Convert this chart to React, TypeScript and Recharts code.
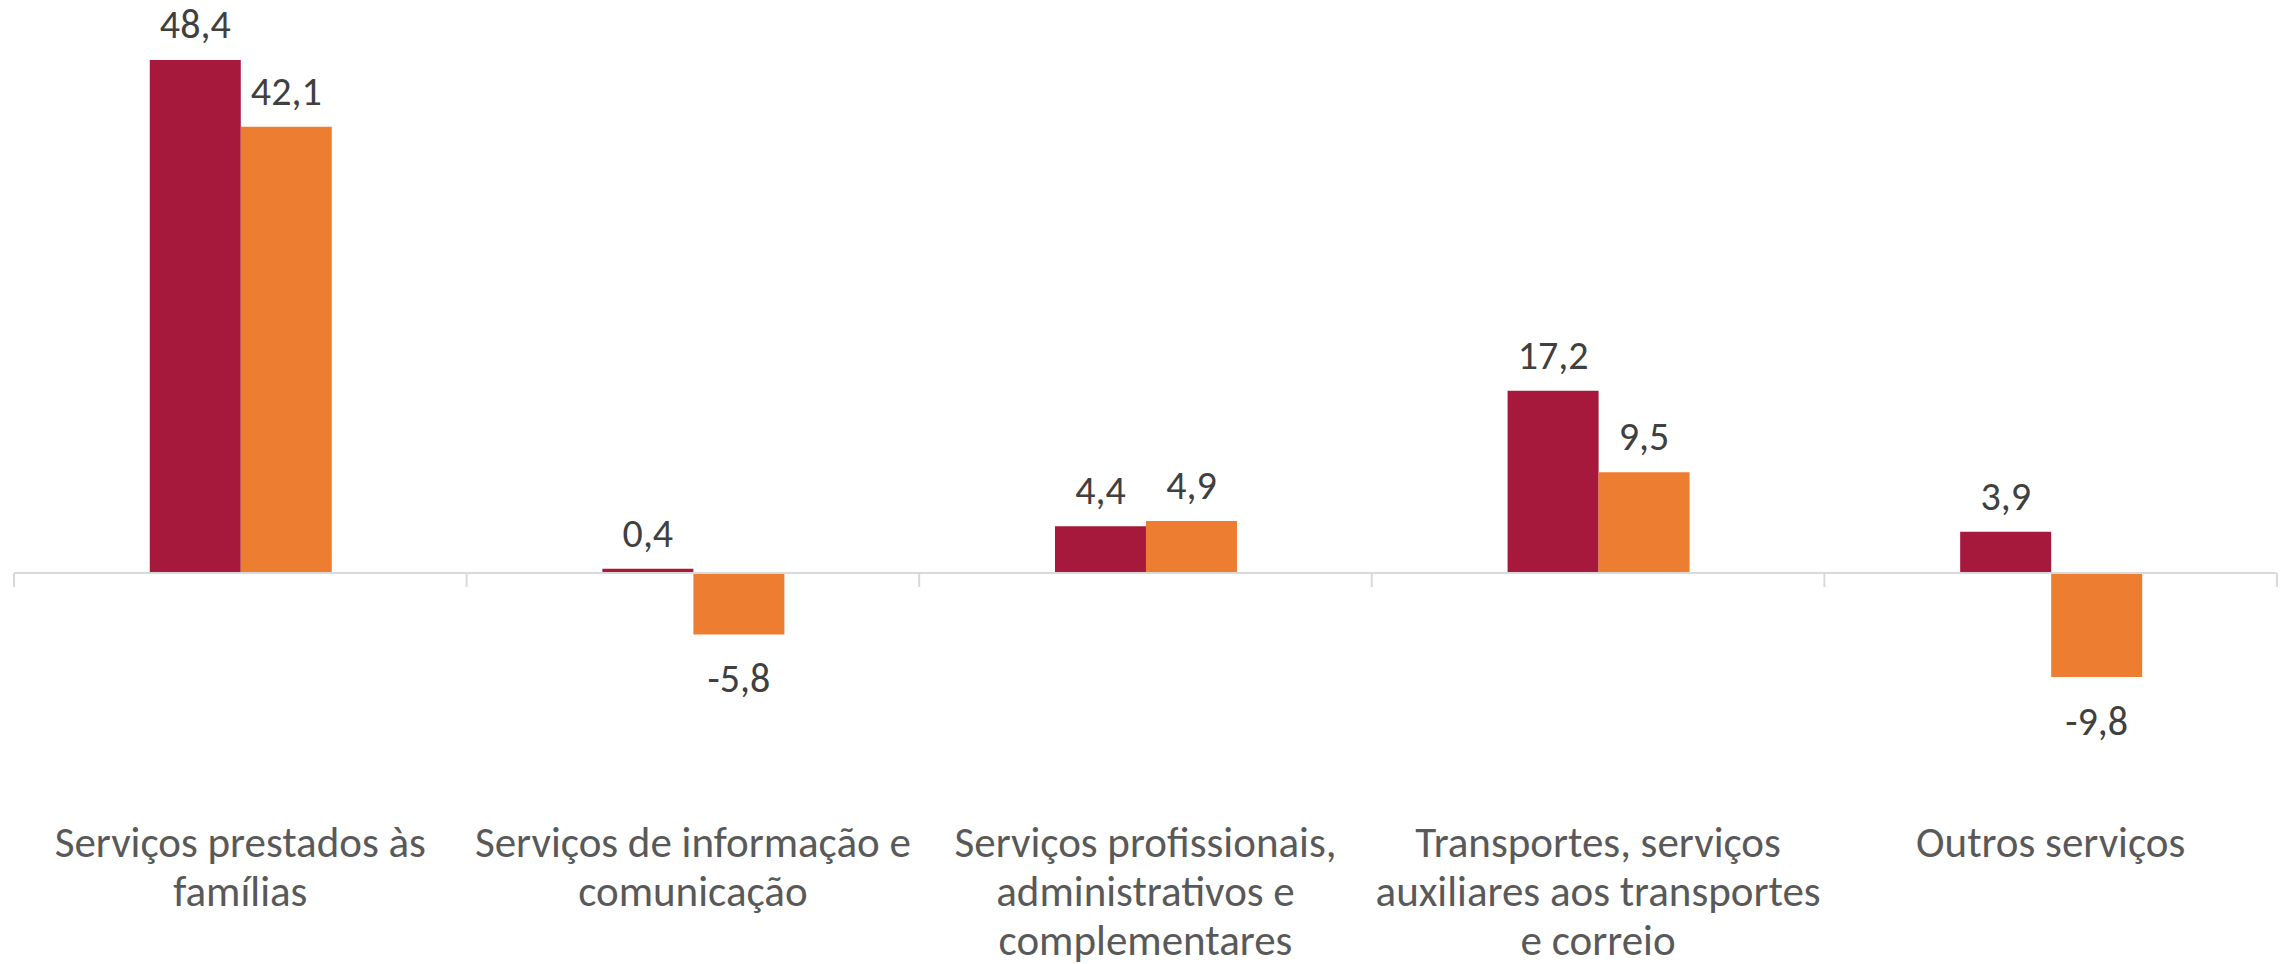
import React from "react";
import { BarChart, Bar, XAxis, YAxis, ReferenceLine, LabelList } from "recharts";

const categories = [
  "Serviços prestados às famílias",
  "Serviços de informação e comunicação",
  "Serviços profissionais, administrativos e complementares",
  "Transportes, serviços auxiliares aos transportes e correio",
  "Outros serviços",
];
const categoryLines = [
  ["Serviços prestados às", "famílias"],
  ["Serviços de informação e", "comunicação"],
  ["Serviços profissionais,", "administrativos e", "complementares"],
  ["Transportes, serviços", "auxiliares aos transportes", "e correio"],
  ["Outros serviços"],
];
const seriesA = [48.4, 0.4, 4.4, 17.2, 3.9];
const seriesB = [42.1, -5.8, 4.9, 9.5, -9.8];
const yDomain = [-15, 50];

const data = categories.map((c, i) => ({ category: c, a: seriesA[i], b: seriesB[i] }));

const FONT = "Carlito, Calibri, Lato, 'Noto Sans', sans-serif";
const fmt = (v: number) => v.toFixed(1).replace(".", ",");

const ValueLabel = (props: any) => {
  const { x, y, width, height, value } = props;
  const top = Math.min(y, y + height);
  const bottom = Math.max(y, y + height);
  const cx = x + width / 2;
  const ty = value >= 0 ? top - 22 : bottom + 58;
  return (
    <text x={cx} y={ty} textAnchor="middle" fill="#404040" fontSize={40} fontFamily={FONT}>
      {fmt(value)}
    </text>
  );
};

const CategoryTick = (props: any) => {
  const { x, y, payload } = props;
  const idx = categories.indexOf(payload.value);
  const lines = categoryLines[idx] || [payload.value];
  return (
    <g>
      {lines.map((l, i) => (
        <text key={i} x={x} y={y + 125 + i * 49} textAnchor="middle" fill="#595959" fontSize={43} fontFamily={FONT}>
          {l}
        </text>
      ))}
    </g>
  );
};

const ZeroAxis = (props: any) => {
  const { x1, x2, y1 } = props;
  const n = categories.length;
  const step = (x2 - x1) / n;
  const ticks = Array.from({ length: n + 1 }, (_, i) => x1 + i * step);
  return (
    <g>
      <line x1={x1} x2={x2} y1={y1} y2={y1} stroke="#d9d9d9" strokeWidth={2} />
      {ticks.map((tx, i) => (
        <line key={i} x1={tx} x2={tx} y1={y1} y2={y1 + 14} stroke="#d9d9d9" strokeWidth={2} />
      ))}
    </g>
  );
};

export default function App() {
  return (
    <div style={{ position: "absolute", top: 0, left: 0, width: 2287, height: 964, background: "#fff" }}>
      <BarChart
        width={2287}
        height={964}
        data={data}
        margin={{ top: 43, right: 10, bottom: 0, left: 14 }}
        barCategoryGap="30%"
        barGap={0}
      >
        <XAxis
          dataKey="category"
          axisLine={false}
          tickLine={false}
          tickSize={0}
          tickMargin={0}
          height={232}
          interval={0}
          tick={<CategoryTick />}
        />
        <YAxis hide domain={yDomain} allowDataOverflow />
        <ReferenceLine y={0} shape={<ZeroAxis />} ifOverflow="visible" />
        <Bar dataKey="a" fill="#A6193C" isAnimationActive={false}>
          <LabelList dataKey="a" content={<ValueLabel />} />
        </Bar>
        <Bar dataKey="b" fill="#ED7D31" isAnimationActive={false}>
          <LabelList dataKey="b" content={<ValueLabel />} />
        </Bar>
      </BarChart>
    </div>
  );
}
